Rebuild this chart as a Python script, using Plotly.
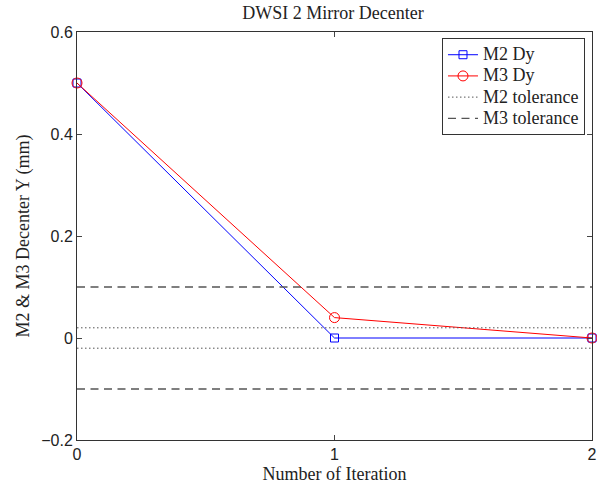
import plotly.graph_objects as go

iterations = [0, 1, 2]
m2_dy = [0.5, 0.0, 0.0]
m3_dy = [0.5, 0.04, 0.0]
m2_tol = 0.02
m3_tol = 0.1
names = ["M2 Dy", "M3 Dy", "M2 tolerance", "M3 tolerance"]

serif = "Liberation Serif"
sans = "Liberation Sans"
W, H = 597, 485


def legend_name(s):
    return '<span style="font-family:Liberation Serif,serif;font-size:18px">' + s + "</span>"


fig = go.Figure()
fig.add_trace(go.Scatter(x=iterations, y=m2_dy, mode="lines+markers", name=legend_name(names[0]),
                         line=dict(color="blue", width=1), cliponaxis=False,
                         marker=dict(symbol="square-open", size=8, color="blue", line=dict(width=1))))
fig.add_trace(go.Scatter(x=iterations, y=m3_dy, mode="lines+markers", name=legend_name(names[1]),
                         line=dict(color="red", width=1), cliponaxis=False,
                         marker=dict(symbol="circle-open", size=10, color="red", line=dict(width=1))))
x0, x1 = iterations[0], iterations[-1]
fig.add_trace(go.Scatter(x=[x0, x1, None, x0, x1], y=[m2_tol, m2_tol, None, -m2_tol, -m2_tol],
                         mode="lines", name=legend_name(names[2]),
                         line=dict(color="#555555", width=1, dash="1.5px,2.5px")))
fig.add_trace(go.Scatter(x=[x0, x1, None, x0, x1], y=[m3_tol, m3_tol, None, -m3_tol, -m3_tol],
                         mode="lines", name=legend_name(names[3]),
                         line=dict(color="#555555", width=1.3, dash="8px,5.5px")))

fig.update_layout(
    width=W, height=H,
    margin=dict(l=77, r=5, t=32, b=45),
    paper_bgcolor="white", plot_bgcolor="white",
    title=dict(text="DWSI 2 Mirror Decenter", x=333 / W, xanchor="center", y=1 - 13 / H, yanchor="middle",
               font=dict(family=serif, size=18, color="#222")),
    legend=dict(x=0.9864, xanchor="right", y=0.985, yanchor="top",
                bordercolor="#333", borderwidth=1, bgcolor="white",
                font=dict(family=serif, size=14, color="#222"),
                tracegroupgap=0, itemwidth=30),
    showlegend=True,
)
fig.update_xaxes(range=[0, 2], tickvals=[0, 1, 2], ticks="inside", ticklen=5, automargin=False,
                 showline=True, linecolor="#333", linewidth=1, mirror="ticks",
                 showgrid=False, zeroline=False,
                 tickfont=dict(family=sans, size=16, color="#222"),
                 title=dict(text="Number of Iteration", font=dict(family=serif, size=18, color="#222"), standoff=5))
fig.update_yaxes(range=[-0.2, 0.6], tickvals=[-0.2, 0, 0.2, 0.4, 0.6],
                 ticktext=["\u22120.2", "0", "0.2", "0.4", "0.6"], automargin=False,
                 ticks="inside", ticklen=5,
                 showline=True, linecolor="#333", linewidth=1, mirror="ticks",
                 showgrid=False, zeroline=False,
                 tickfont=dict(family=sans, size=16, color="#222"),
                 title=dict(text="M2 & M3 Decenter Y (mm)", font=dict(family=serif, size=18, color="#222"), standoff=6))

fig.write_html("out.html", config={"displayModeBar": False},
               post_script="document.body.style.margin='0';document.body.style.overflow='hidden';")
